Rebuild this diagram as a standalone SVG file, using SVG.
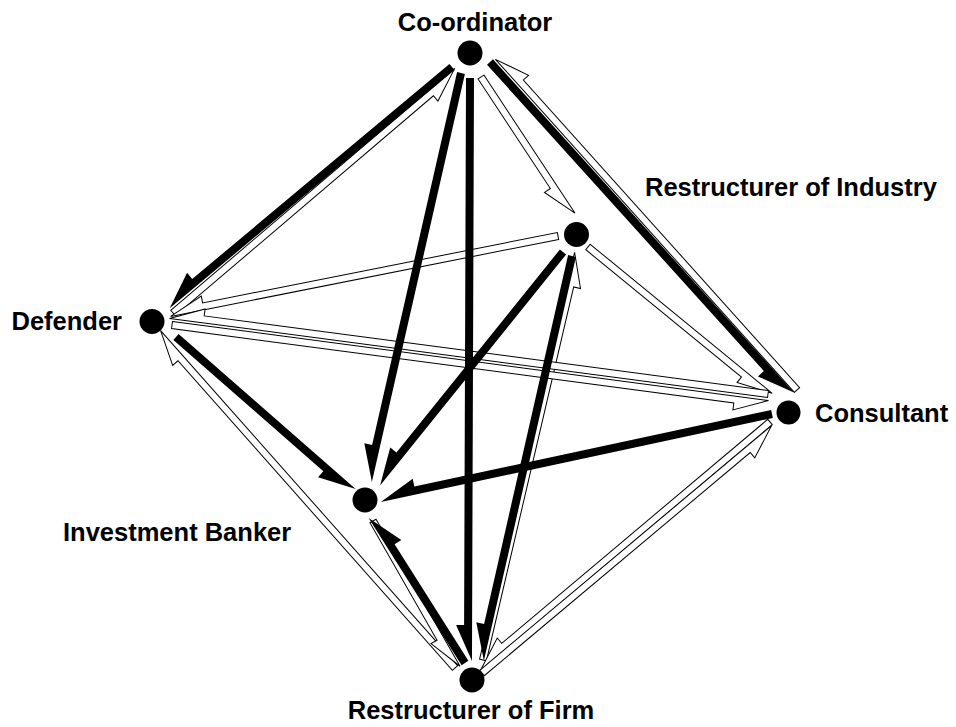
<svg xmlns="http://www.w3.org/2000/svg" width="956" height="727" viewBox="0 0 956 727">
<style>
.b{fill:#000}
.h{fill:#fff;stroke:#000;stroke-width:1}
.n{fill:#000}
.t{font-family:"Liberation Sans",Arial,sans-serif;font-weight:bold;font-size:25.5px;fill:#000}
</style>
<rect width="956" height="727" fill="#fff"/>
<g id="connectors">
<path class="h" transform="translate(173,313) rotate(-40.43)" d="M0,-3.5H373.1L339.1,10.5V3.5H0Z"/>
<path class="h" transform="translate(797,390) rotate(-131.92)" d="M0,-3.5H447.5L413.5,10.5V3.5H0Z"/>
<path class="h" transform="translate(481,77) rotate(56.6)" d="M0,-3.5H165.3L131.3,10.5V3.5H0Z"/>
<path class="h" transform="translate(558,236) rotate(168.78)" d="M0,-3.5H395.6L361.6,10.5V3.5H0Z"/>
<path class="h" transform="translate(483,660) rotate(-76.86)" d="M0,-3.5H417.9L383.9,10.5V3.5H0Z"/>
<path class="h" transform="translate(588,247) rotate(39.3)" d="M0,-3.5H235.2L201.2,10.5V3.5H0Z"/>
<path class="h" transform="translate(768,394) rotate(-172.47)" d="M0,-3.5H603.2L569.2,10.5V3.5H0Z"/>
<path class="h" transform="translate(172,325) rotate(7.55)" d="M0,-3.5H601.2L567.2,10.5V3.5H0Z"/>
<path class="h" transform="translate(455,668) rotate(-131.56)" d="M0,3.5H447.7L413.7,-10.5V-3.5H0Z"/>
<path class="h" transform="translate(373,521) rotate(60.26)" d="M0,-3.5H169.3L135.3,10.5V3.5H0Z"/>
<path class="h" transform="translate(770,422) rotate(139.89)" d="M0,-3.5H381.8L347.8,10.5V3.5H0Z"/>
<path class="h" transform="translate(482,673) rotate(-40)" d="M0,-3.5H381.2L347.2,10.5V3.5H0Z"/>
<path class="b" transform="translate(452,67) rotate(140.1)" d="M0,-4H371.3L335.3,12V4H0Z"/>
<path class="b" transform="translate(461,73) rotate(102.84)" d="M0,-4H418.5L382.5,12V4H0Z"/>
<path class="b" transform="translate(470,78) rotate(90.2)" d="M0,-4H583L547,12V4H0Z"/>
<path class="b" transform="translate(490,62) rotate(47.9)" d="M0,-4H448.9L412.9,12V4H0Z"/>
<path class="b" transform="translate(563,252) rotate(128.84)" d="M0,-4H296.6L260.6,12V4H0Z"/>
<path class="b" transform="translate(572,256) rotate(102.83)" d="M0,-4H414.3L378.3,12V4H0Z"/>
<path class="b" transform="translate(176,337) rotate(41.2)" d="M0,-4H235.3L199.3,12V4H0Z"/>
<path class="b" transform="translate(772,414) rotate(167.9)" d="M0,-4H400.9L364.9,12V4H0Z"/>
<path class="b" transform="translate(465,663) rotate(-122.32)" d="M0,-4H174L138,12V4H0Z"/>
</g>
<g id="coordinator"><circle class="n" cx="470" cy="53" r="12.5"/><text class="t" x="475" y="31" text-anchor="middle">Co-ordinator</text></g>
<g id="restructurer-industry"><circle class="n" cx="576.5" cy="234.5" r="12.5"/><text class="t" x="645" y="196">Restructurer of Industry</text></g>
<g id="defender"><circle class="n" cx="152" cy="321.5" r="12.5"/><text class="t" x="122" y="330" text-anchor="end">Defender</text></g>
<g id="consultant"><circle class="n" cx="788.5" cy="412.5" r="12"/><text class="t" x="815" y="422">Consultant</text></g>
<g id="investment-banker"><circle class="n" cx="365" cy="500" r="12.5"/><text class="t" x="63" y="541">Investment Banker</text></g>
<g id="restructurer-firm"><circle class="n" cx="472" cy="680" r="12.5"/><text class="t" x="471" y="719" text-anchor="middle">Restructurer of Firm</text></g>
</svg>
